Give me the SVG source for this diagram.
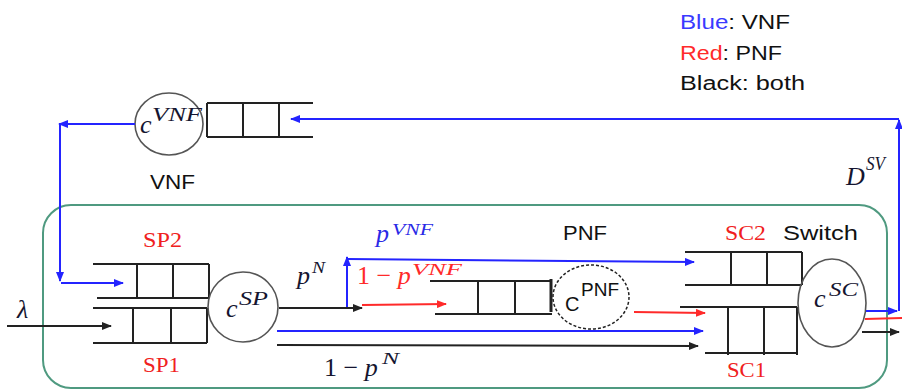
<svg xmlns="http://www.w3.org/2000/svg" width="902" height="391" viewBox="0 0 902 391">
<style>
.q{stroke:#222;stroke-width:2;fill:none}
.srv{fill:none;stroke:#555;stroke-width:1.6}
.blue{stroke:#2424ff;stroke-width:2;fill:none}
.red{stroke:#ff2a2a;stroke-width:2;fill:none}
.blk{stroke:#222;stroke-width:2;fill:none}
.math{font-family:"Liberation Serif","Times New Roman",serif;font-style:italic;fill:#151530}
.up{font-style:normal}
.sans{font-family:"Liberation Sans",Arial,sans-serif;fill:#111}
.serifr{font-family:"Liberation Serif","Times New Roman",serif;fill:#f02020}
</style>
<defs>
<marker id="ab" markerWidth="10" markerHeight="8" refX="9" refY="4" orient="auto" markerUnits="userSpaceOnUse"><path d="M0,0 L10,4 L0,8 Z" fill="#2424ff"/></marker>
<marker id="ar" markerWidth="10" markerHeight="8" refX="9" refY="4" orient="auto" markerUnits="userSpaceOnUse"><path d="M0,0 L10,4 L0,8 Z" fill="#ff2a2a"/></marker>
<marker id="ak" markerWidth="10" markerHeight="8" refX="9" refY="4" orient="auto" markerUnits="userSpaceOnUse"><path d="M0,0 L10,4 L0,8 Z" fill="#222"/></marker>
</defs>
<rect width="902" height="391" fill="#fff"/>
<g id="system-boundary">
<rect x="43" y="205" width="844" height="183" rx="28" ry="28" fill="none" stroke="#4f9a80" stroke-width="2"/>
</g>
<g id="legend">
<text class="sans" x="680" y="29" font-size="20" textLength="110" lengthAdjust="spacingAndGlyphs"><tspan fill="#3a3aff">Blue</tspan>: VNF</text>
<text class="sans" x="680" y="60" font-size="20" textLength="102" lengthAdjust="spacingAndGlyphs"><tspan fill="#ff2a2a">Red</tspan>: PNF</text>
<text class="sans" x="680" y="90" font-size="20" textLength="125" lengthAdjust="spacingAndGlyphs">Black: both</text>
</g>
<g id="node-vnf">
<path class="q" d="M207,103 H313 M207,137 H313 M207,103 V137 M243,103 V137 M279,103 V137"/>
<ellipse class="srv" cx="169" cy="124" rx="34" ry="31"/>
<text class="math" x="140" y="133" font-size="26">c</text>
<text class="math" x="152" y="121" font-size="19" textLength="50" lengthAdjust="spacingAndGlyphs">VNF</text>
<text class="sans" x="150" y="189" font-size="20" textLength="45" lengthAdjust="spacingAndGlyphs">VNF</text>
</g>
<g id="node-sp2">
<path class="q" d="M93,264 H209 M97,298 H209 M137,264 V298 M173,264 V298 M209,264 V298"/>
<text class="serifr" x="143" y="247" font-size="21" textLength="39" lengthAdjust="spacingAndGlyphs">SP2</text>
</g>
<g id="node-sp1">
<path class="q" d="M93,308 H207 M93,343 H207 M133,308 V343 M171,308 V343 M207,308 V343"/>
<text class="serifr" x="143" y="372" font-size="21" textLength="37" lengthAdjust="spacingAndGlyphs">SP1</text>
</g>
<g id="node-sp-server">
<circle class="srv" cx="243" cy="307" r="35"/>
<text class="math" x="226" y="317" font-size="26">c</text>
<text class="math" x="239" y="305" font-size="18" textLength="29" lengthAdjust="spacingAndGlyphs">SP</text>
</g>
<g id="node-pnf">
<path class="q" d="M430,281 H552 M435,314 H552 M478,281 V314 M515,281 V314"/>
<path d="M551,279 V312" stroke="#222" stroke-width="3"/>
<ellipse cx="591" cy="297" rx="38" ry="32" fill="none" stroke="#222" stroke-width="1.5" stroke-dasharray="3 2"/>
<text class="sans" x="565" y="311" font-size="20">C</text>
<text class="sans" x="581" y="296" font-size="19" textLength="38" lengthAdjust="spacingAndGlyphs">PNF</text>
<text class="sans" x="563" y="240" font-size="20" textLength="44" lengthAdjust="spacingAndGlyphs">PNF</text>
</g>
<g id="node-sc2">
<path class="q" d="M685,252 H802 M685,285 H802 M731,252 V285 M767,252 V285 M802,252 V285"/>
<text class="serifr" x="725" y="240" font-size="21" textLength="41" lengthAdjust="spacingAndGlyphs">SC2</text>
</g>
<g id="node-sc1">
<path class="q" d="M680,307 H797 M705,353 H797 M728,307 V355 M764,307 V355 M797,307 V355"/>
<text class="serifr" x="727" y="377" font-size="21" textLength="39" lengthAdjust="spacingAndGlyphs">SC1</text>
</g>
<g id="node-switch">
<ellipse class="srv" cx="832" cy="303" rx="34" ry="44"/>
<text class="math" x="814" y="307" font-size="26">c</text>
<text class="math" x="829" y="296" font-size="19" textLength="29" lengthAdjust="spacingAndGlyphs">SC</text>
<text class="sans" x="783" y="240" font-size="20" textLength="75" lengthAdjust="spacingAndGlyphs">Switch</text>
</g>
<g id="connectors">
<path class="blk" d="M7,326 H111" marker-end="url(#ak)"/>
<path class="blk" d="M279,308 H362" marker-end="url(#ak)"/>
<path class="blue" d="M347,307 V257" marker-end="url(#ab)"/>
<path class="blue" d="M347,259 L694,262" marker-end="url(#ab)"/>
<path class="red" d="M362,305 L446,304" marker-end="url(#ar)"/>
<path class="red" d="M634,312 L705,313" marker-end="url(#ar)"/>
<path class="blue" d="M277,331 H703" marker-end="url(#ab)"/>
<path class="blk" d="M277,345 L698,346" marker-end="url(#ak)"/>
<path class="blue" d="M866,311 H897" marker-end="url(#ab)"/>
<path class="red" d="M865,319 L902,318"/>
<path class="blk" d="M862,332 H899" marker-end="url(#ak)"/>
<path class="blue" d="M899,311 V120" marker-end="url(#ab)"/>
<path class="blue" d="M899,119 H291" marker-end="url(#ab)"/>
<path class="blue" d="M135,124 H59" marker-end="url(#ab)"/>
<path class="blue" d="M60,125 V281" marker-end="url(#ab)"/>
<path class="blue" d="M61,283 H123" marker-end="url(#ab)"/>
</g>
<g id="edge-labels">
<text class="math" x="17" y="318" font-size="26">λ</text>
<text class="math" x="297" y="284" font-size="26">p</text>
<text class="math" x="312" y="273" font-size="17" textLength="13" lengthAdjust="spacingAndGlyphs">N</text>
<text class="math" x="376" y="242" font-size="26" style="fill:#2a2ae6">p</text>
<text class="math" x="392" y="235" font-size="17" textLength="41" lengthAdjust="spacingAndGlyphs" style="fill:#2a2ae6">VNF</text>
<text class="math" x="357" y="284" font-size="26" style="fill:#ff2a2a"><tspan class="up">1 − </tspan>p</text>
<text class="math" x="412" y="275" font-size="17" textLength="50" lengthAdjust="spacingAndGlyphs" style="fill:#ff2a2a">VNF</text>
<text class="math" x="324" y="376" font-size="26"><tspan class="up">1 − </tspan>p</text>
<text class="math" x="382" y="364" font-size="17" textLength="17" lengthAdjust="spacingAndGlyphs">N</text>
<text class="math" x="846" y="185" font-size="26">D</text>
<text class="math" x="866" y="170" font-size="18" textLength="19" lengthAdjust="spacingAndGlyphs">SV</text>
</g>
</svg>
